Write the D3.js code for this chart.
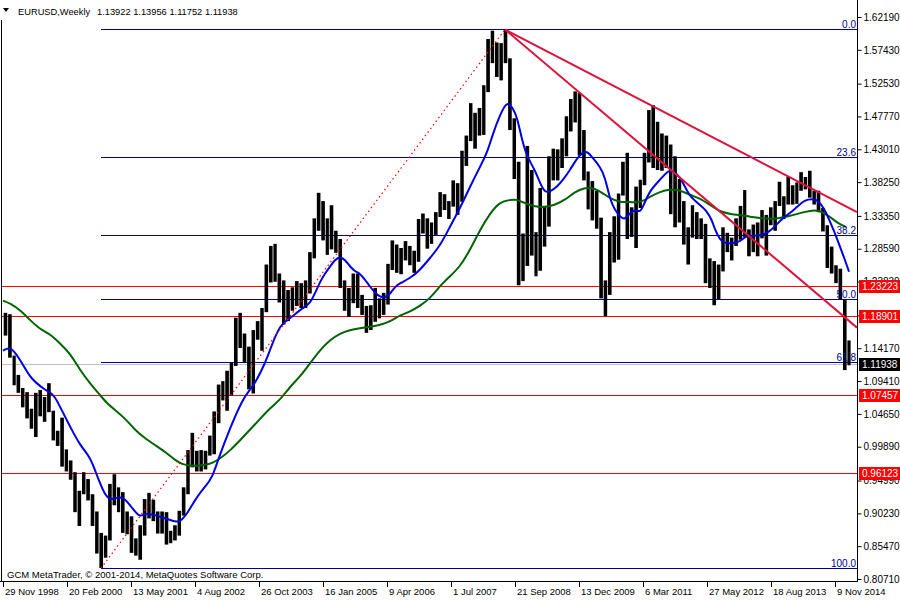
<!DOCTYPE html>
<html><head><meta charset="utf-8">
<script src="https://cdn.jsdelivr.net/npm/d3@7"></script>
<style>
body{margin:0;background:#fff;}
svg{display:block;font-family:"Liberation Sans",Arial,sans-serif;font-size:10px;}
</style></head><body>
<svg id="c" width="900" height="600"></svg>
<script>
// ---------------- DATA ----------------
const symbolTitle = "EURUSD,Weekly";
const lastBar = ["1.13922","1.13956","1.11752","1.11938"];
const copyright = "GCM MetaTrader, \u00A9 2001-2014, MetaQuotes Software Corp.";
const firstMonth = "1998-12";
// monthly highs / lows (Dec 1998 .. Feb 2015)
const monthHigh = [1.193,1.191,1.131,1.103,1.084,1.078,1.054,1.077,1.081,1.071,1.091,1.051,1.022,
 1.041,0.995,0.979,0.962,0.935,0.962,0.952,0.930,0.905,0.874,0.870,0.945,
 0.959,0.940,0.933,0.905,0.898,0.866,0.885,0.923,0.932,0.922,0.905,0.905,
 0.904,0.877,0.885,0.906,0.940,0.994,1.019,0.993,0.994,0.993,1.015,1.050,
 1.089,1.094,1.109,1.121,1.186,1.193,1.163,1.144,1.168,1.181,1.200,1.263,
 1.290,1.293,1.250,1.240,1.226,1.230,1.239,1.236,1.240,1.281,1.330,1.367,
 1.355,1.330,1.349,1.312,1.300,1.240,1.229,1.250,1.250,1.219,1.203,1.204,
 1.229,1.214,1.222,1.264,1.298,1.292,1.287,1.297,1.290,1.283,1.329,1.337,
 1.330,1.324,1.339,1.368,1.365,1.355,1.385,1.381,1.428,1.450,1.497,1.483,
 1.490,1.523,1.590,1.602,1.585,1.584,1.604,1.562,1.475,1.412,1.308,1.435,
 1.400,1.310,1.374,1.348,1.420,1.431,1.430,1.446,1.478,1.503,1.514,1.512,
 1.458,1.398,1.384,1.370,1.331,1.240,1.310,1.333,1.366,1.412,1.425,1.346,
 1.376,1.386,1.425,1.487,1.494,1.470,1.453,1.450,1.437,1.420,1.387,1.355,
 1.317,1.349,1.339,1.330,1.322,1.272,1.268,1.263,1.317,1.309,1.302,1.330,
 1.348,1.371,1.314,1.321,1.324,1.342,1.335,1.346,1.355,1.383,1.362,1.390,
 1.378,1.382,1.397,1.390,1.399,1.370,1.370,1.345,1.320,1.289,1.262,1.257,
 1.212,1.153];
const monthLow = [1.160,1.128,1.088,1.077,1.056,1.040,1.025,1.013,1.043,1.035,1.049,1.008,1.000,
 0.970,0.963,0.951,0.904,0.884,0.930,0.921,0.884,0.844,0.823,0.838,0.863,
 0.914,0.904,0.874,0.872,0.845,0.841,0.835,0.870,0.895,0.891,0.873,0.873,
 0.857,0.859,0.863,0.870,0.899,0.930,0.969,0.963,0.963,0.966,0.986,0.988,
 1.033,1.066,1.051,1.073,1.116,1.142,1.121,1.082,1.076,1.154,1.138,1.194,
 1.237,1.238,1.208,1.176,1.181,1.196,1.203,1.200,1.200,1.221,1.272,1.312,
 1.298,1.277,1.285,1.280,1.229,1.196,1.187,1.207,1.200,1.190,1.164,1.168,
 1.180,1.185,1.190,1.205,1.255,1.251,1.249,1.269,1.262,1.251,1.267,1.308,
 1.286,1.293,1.306,1.332,1.342,1.329,1.347,1.335,1.354,1.406,1.442,1.431,
 1.450,1.451,1.513,1.555,1.535,1.530,1.555,1.458,1.387,1.233,1.239,1.261,
 1.276,1.246,1.254,1.289,1.318,1.385,1.385,1.403,1.420,1.456,1.469,1.421,
 1.385,1.343,1.327,1.315,1.214,1.188,1.219,1.266,1.270,1.363,1.300,1.303,
 1.287,1.345,1.378,1.411,1.403,1.400,1.399,1.403,1.336,1.317,1.324,1.292,
 1.263,1.302,1.300,1.300,1.236,1.229,1.204,1.213,1.253,1.281,1.269,1.290,
 1.299,1.303,1.275,1.281,1.275,1.301,1.276,1.320,1.312,1.348,1.329,1.350,
 1.350,1.351,1.370,1.372,1.360,1.350,1.339,1.311,1.258,1.250,1.236,1.212,
 1.110,1.117];
// moving averages: [weeks after 29 Nov 1998, price]
const blueMA = [[0,1.138],[8,1.145],[17,1.125],[27,1.100],[32,1.093],[42,1.081],[47,1.078],[52,1.071],[57,1.057],[67,1.028],[77,1.001],[87,0.984],[92,0.965],[97,0.946],[102,0.929],[107,0.922],[112,0.924],[117,0.926],[122,0.923],[127,0.914],[132,0.905],[137,0.897],[142,0.902],[147,0.901],[152,0.900],[157,0.897],[167,0.893],[174,0.889],[179,0.893],[184,0.902],[189,0.914],[194,0.926],[202,0.941],[209,0.953],[215,0.980],[227,1.026],[240,1.069],[247,1.081],[254,1.096],[262,1.120],[267,1.139],[272,1.158],[277,1.173],[282,1.180],[287,1.185],[297,1.197],[302,1.202],[307,1.207],[312,1.221],[317,1.238],[322,1.250],[327,1.260],[332,1.270],[337,1.275],[342,1.270],[347,1.260],[352,1.253],[357,1.250],[362,1.241],[367,1.231],[372,1.222],[377,1.216],[382,1.215],[387,1.220],[392,1.231],[397,1.236],[407,1.243],[417,1.255],[427,1.2725],[437,1.290],[447,1.318],[457,1.3445],[467,1.3758],[477,1.4048],[484,1.4243],[490,1.4533],[497,1.4798],[504,1.5005],[510,1.4895],[514,1.4773],[519,1.4436],[524,1.4193],[532,1.4001],[537,1.3808],[542,1.3672],[547,1.3686],[554,1.3758],[560,1.3856],[567,1.4001],[574,1.417],[580,1.4266],[585,1.4266],[590,1.417],[597,1.4048],[602,1.3903],[607,1.3566],[612,1.3421],[617,1.3323],[622,1.3276],[627,1.3384],[632,1.3431],[637,1.3384],[640,1.3468],[647,1.3711],[657,1.3856],[664,1.3976],[669,1.4001],[677,1.3903],[682,1.3758],[687,1.3613],[697,1.3493],[703,1.3421],[709,1.3276],[712,1.3131],[717,1.2986],[722,1.2938],[730,1.2938],[737,1.2961],[742,1.3034],[747,1.3048],[757,1.3048],[764,1.3083],[772,1.3179],[779,1.33],[787,1.3373],[794,1.3468],[802,1.3566],[809,1.358],[815,1.3566],[822,1.3421],[827,1.3251],[832,1.3083],[837,1.2889],[842,1.2696],[846,1.2526]];
const greenMA = [[0,1.2106],[7,1.2068],[17,1.1971],[27,1.1826],[37,1.1691],[47,1.1623],[57,1.1488],[67,1.1343],[77,1.1101],[87,1.0908],[97,1.0738],[104,1.0618],[112,1.0521],[122,1.0401],[132,1.0231],[142,1.0111],[152,1.0013],[162,0.9916],[172,0.9796],[179,0.9734],[187,0.9713],[197,0.9713],[207,0.9734],[215,0.9796],[227,0.9926],[242,1.0158],[257,1.039],[267,1.055],[277,1.0666],[287,1.0859],[297,1.1004],[307,1.1198],[317,1.1391],[327,1.1536],[337,1.1633],[347,1.1681],[357,1.1706],[367,1.1729],[377,1.1753],[387,1.1801],[397,1.1898],[407,1.1946],[417,1.2029],[427,1.2138],[437,1.232],[447,1.246],[457,1.2599],[467,1.2841],[477,1.3131],[487,1.3373],[497,1.3541],[507,1.3566],[513,1.358],[522,1.3518],[532,1.3468],[542,1.346],[552,1.3493],[562,1.3566],[572,1.3686],[582,1.375],[592,1.3736],[600,1.3663],[607,1.359],[617,1.3527],[627,1.3541],[637,1.3522],[647,1.3613],[657,1.3686],[667,1.3721],[677,1.3711],[687,1.3638],[697,1.359],[707,1.3493],[717,1.3396],[727,1.3363],[742,1.3338],[757,1.33],[772,1.3286],[787,1.3334],[802,1.3396],[812,1.3421],[819,1.3396],[827,1.3323],[835,1.3228],[843,1.3174]];
// Fibonacci retracement anchors
const fibLow = {date:"2000-10-15", price:0.8228};
const fibHigh = {date:"2008-07-13", price:1.6038};
const fibLevels = [0, 23.6, 38.2, 50.0, 61.8, 100.0];
// trend lines: both start at the 2008 high
const trendLines = [
  {d1:"2008-07-13", p1:1.6038, d2:"2011-05-01", p2:1.4940},
  {d1:"2008-07-13", p1:1.6038, d2:"2009-11-22", p2:1.5166}
];
const redLevels = [1.23223, 1.18901, 1.07457, 0.96123];
const bidPrice = 1.11938;
const priceTicks = [1.62190,1.57430,1.52530,1.47770,1.43010,1.38250,1.33350,1.28590,1.23830,1.18930,1.14170,1.09410,1.04650,0.99890,0.94990,0.90230,0.85470,0.80710];
const dateTicks = ["1998-11-29","2000-02-20","2001-05-13","2002-08-04","2003-10-26","2005-01-16","2006-04-09","2007-07-01","2008-09-21","2009-12-13","2011-03-06","2012-05-27","2013-08-18","2014-11-09"];

// ---------------- CHART ----------------
const svg = d3.select("#c");
const R = 857, B = 581;
const P = d3.utcParse("%Y-%m-%d");
const x = d3.scaleUtc().domain([P("1998-11-29"), P("2014-11-09")]).range([3, 835]);
const y = d3.scaleLinear().domain([0.80710, 1.62190]).range([579, 17]);
const wk = i => d3.utcWeek.offset(P("1998-11-29"), i);
const FIB = "#000090";

svg.append("rect").attr("width",900).attr("height",600).attr("fill","#fff");
svg.append("defs").append("clipPath").attr("id","clip")
  .append("rect").attr("x",2).attr("y",0).attr("width",R-2).attr("height",B);
const g = svg.append("g").attr("clip-path","url(#clip)");

// fib lines (background)
const fx0 = x(P(fibLow.date));
const fibPrice = l => fibHigh.price - (fibHigh.price - fibLow.price) * l / 100;
g.selectAll("line.fib").data(fibLevels).join("line").attr("class","fib")
  .attr("x1", fx0).attr("x2", R)
  .attr("y1", d => Math.round(y(fibPrice(d))) + 0.5).attr("y2", d => Math.round(y(fibPrice(d))) + 0.5)
  .attr("stroke",FIB).attr("stroke-width",1);

// red horizontals & bid
g.selectAll("line.red").data(redLevels).join("line").attr("class","red")
  .attr("x1",0).attr("x2",R)
  .attr("y1", d => Math.round(y(d)) + 0.5).attr("y2", d => Math.round(y(d)) + 0.5)
  .attr("stroke","#ff0000").attr("stroke-width",1);
g.append("line").attr("x1",0).attr("x2",R)
  .attr("y1", Math.round(y(bidPrice))+0.5).attr("y2", Math.round(y(bidPrice))+0.5)
  .attr("stroke","#c0c0c0").attr("stroke-width",1);

// price bars
const m0 = d3.utcParse("%Y-%m")(firstMonth);
const bars = monthHigh.map((h,i) => ({d0: d3.utcMonth.offset(m0,i), d1: d3.utcMonth.offset(m0,i+1), h, l: monthLow[i]}));
g.selectAll("rect.bar").data(bars).join("rect").attr("class","bar")
  .attr("x", d => x(d.d0) + 0.4).attr("width", d => Math.max(1, x(d.d1) - x(d.d0) - 0.8))
  .attr("y", d => y(d.h)).attr("height", d => y(d.l) - y(d.h))
  .attr("fill","#000");

// moving averages
const maLine = d3.line().x(d => x(wk(d[0]))).y(d => y(d[1])).curve(d3.curveBasis);
g.append("path").attr("d", maLine(greenMA)).attr("fill","none").attr("stroke","#006400").attr("stroke-width",2);
g.append("path").attr("d", maLine(blueMA)).attr("fill","none").attr("stroke","#0000e0").attr("stroke-width",2);

// dotted fib diagonal
g.append("line").attr("x1", fx0).attr("y1", y(fibLow.price))
  .attr("x2", x(P(fibHigh.date))).attr("y2", y(fibHigh.price))
  .attr("stroke","#ff0000").attr("stroke-width",1.2).attr("stroke-dasharray","1.5,3");

// trend lines (rays to the right)
trendLines.forEach(t => {
  const ax = x(P(t.d1)), ay = y(t.p1), bx = x(P(t.d2)), by = y(t.p2);
  const s = (by - ay) / (bx - ax);
  g.append("line").attr("x1", ax).attr("y1", ay).attr("x2", R).attr("y2", ay + s * (R - ax))
    .attr("stroke","#dc143c").attr("stroke-width",2);
});

// fib labels
svg.selectAll("text.fibl").data(fibLevels).join("text").attr("class","fibl")
  .attr("x", R - 1).attr("y", d => Math.round(y(fibPrice(d))) - 1)
  .attr("text-anchor","end").attr("fill",FIB).attr("font-size",10)
  .text(d => d.toFixed(1));

// frame
svg.append("line").attr("x1",1.5).attr("x2",1.5).attr("y1",20).attr("y2",B).attr("stroke","#000");
svg.append("line").attr("x1",0).attr("x2",R).attr("y1",B+0.5).attr("y2",B+0.5).attr("stroke","#000");

// right price axis
const ya = d3.axisRight(y).tickValues(priceTicks).tickSize(4).tickPadding(2).tickFormat(d3.format(".5f"));
const yg = svg.append("g").attr("transform",`translate(${R+0.5},0)`).call(ya);
yg.select(".domain").attr("d",`M0,0V${B+1}`).attr("stroke","#000");
yg.selectAll("text").attr("font-family","Liberation Sans, Arial, sans-serif").attr("font-size",10).attr("fill","#000");
yg.selectAll("line").attr("stroke","#000");

// bottom date axis
const fmt = d3.utcFormat("%-d %b %Y");
const xg = svg.append("g").attr("font-size",9.5);
xg.selectAll("line").data(dateTicks).join("line")
  .attr("x1", d => Math.round(x(P(d)))+0.5).attr("x2", d => Math.round(x(P(d)))+0.5)
  .attr("y1", B).attr("y2", B+6).attr("stroke","#000");
xg.selectAll("text").data(dateTicks).join("text")
  .attr("x", d => x(P(d)) + 2).attr("y", 595).attr("fill","#000")
  .text(d => fmt(P(d)));

// price labels on the axis
const boxes = redLevels.map(p => ({p, fill:"#ff0000"})).concat([{p: bidPrice, fill:"#000"}]);
const bg = svg.selectAll("g.box").data(boxes).join("g").attr("class","box");
bg.append("rect").attr("x", R+2).attr("width", 900-R-2).attr("y", d => Math.round(y(d.p)) - 6).attr("height", 13).attr("fill", d => d.fill);
bg.append("text").attr("x", R+5).attr("y", d => Math.round(y(d.p)) + 4).attr("fill","#fff").text(d => d3.format(".5f")(d.p));

// title
svg.append("path").attr("d","M3,8L9,8L6,12Z").attr("fill","#000");
svg.append("text").attr("x",18).attr("y",15).attr("fill","#000").attr("font-size",9.3).text(symbolTitle);
svg.append("text").attr("x",97).attr("y",15).attr("fill","#000").attr("font-size",9.3).text(lastBar.join(" "));
svg.append("text").attr("x",7).attr("y",578).attr("fill","#000").attr("font-size",9.5).text(copyright);
</script>
</body></html>
